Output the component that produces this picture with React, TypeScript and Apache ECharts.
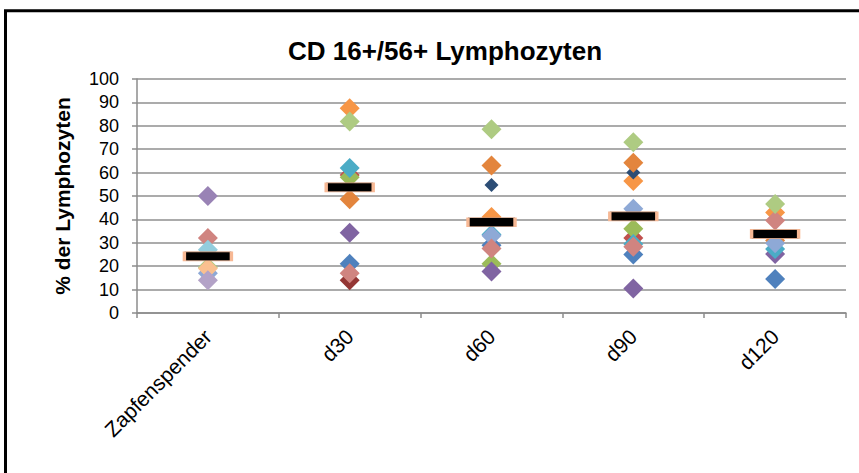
import React, { useEffect, useRef } from "react";
import * as echarts from "echarts";

const categories = ["Zapfenspender", "d30", "d60", "d90", "d120"];
const yTicks = [0, 10, 20, 30, 40, 50, 60, 70, 80, 90, 100];

// individual patients / donors (null = no value)
const sBlue = [null, 21, 29, 25, 14.5];
const sRed = [null, 59, null, 32, null];
const sGreen = [null, 58, 21, 36, null];
const sPurple = [null, 34.3, 17.7, 10.5, 25.2];
const sAqua = [null, 62, 33.5, 29.5, 27.3];
const sOrange = [null, 87.5, 41, 56.4, 43];
const sDarkBlue = [null, null, 54.7, 60, null];
const sDarkRed = [null, 14, null, null, null];
const sDarkOrange = [null, 48.6, 63, 64.2, 31];
const sLightBlue = [17, null, 33, 44.5, 29.8];
const sPink = [32, 17, 27.6, 28.3, 39.5];
const sLightGreen = [19.5, 81.8, 78.5, 73, 46.6];
const sDonorPurple = [50, null, null, null, null];
const sDonorAqua = [27, null, null, null, null];
const sDonorOrange = [19, null, null, null, null];
const sLavender = [14, null, null, null, null];
const meanValues = [24.2, 53.7, 38.8, 41.3, 33.8];

const seriesDefs: [string, string, (number | null)[], number][] = [
  ["P1", "#4F81BD", sBlue, 20],
  ["P2", "#C0504D", sRed, 20],
  ["P3", "#9BBB59", sGreen, 20],
  ["P4", "#8064A2", sPurple, 20],
  ["P5", "#4BACC6", sAqua, 20],
  ["P6", "#F79646", sOrange, 20],
  ["P7", "#2C4D75", sDarkBlue, 14],
  ["P8", "#943634", sDarkRed, 20],
  ["P9", "#E3853D", sDarkOrange, 20],
  ["P10", "#8EA9D6", sLightBlue, 20],
  ["P11", "#D08480", sPink, 20],
  ["P12", "#AECB82", sLightGreen, 20],
  ["D1", "#9983B5", sDonorPurple, 20],
  ["D2", "#93CDDD", sDonorAqua, 20],
  ["D3", "#FAC090", sDonorOrange, 20],
  ["D4", "#B3A2C7", sLavender, 20],
];

const FONT = "Liberation Sans, Arial, sans-serif";

export default function App() {
  const ref = useRef<HTMLDivElement>(null);
  useEffect(() => {
    if (!ref.current) return;
    const chart = echarts.init(ref.current, null, { renderer: "svg" });
    const series: any[] = seriesDefs.map(([name, color, data, size]) => ({
      name,
      type: "scatter",
      data,
      symbol: "diamond",
      symbolSize: [size, size],
      itemStyle: { color, opacity: 1 },
    }));
    series.push({
      name: "Mittelwert",
      type: "scatter",
      data: meanValues,
      symbol: "rect",
      symbolSize: [47, 9],
      itemStyle: { color: "#000000", borderColor: "#F7B894", borderWidth: 1.5, opacity: 1 },
      z: 5,
    });
    chart.setOption({
      animation: false,
      backgroundColor: "#ffffff",
      title: {
        text: "CD 16+/56+ Lymphozyten",
        left: 440,
        textAlign: "center",
        top: 33,
        textStyle: { fontFamily: FONT, fontSize: 26, fontWeight: "bold", color: "#000" },
      },
      graphic: [
        {
          type: "rect",
          shape: { x: 5.5, y: 10.8, width: 900, height: 500 },
          style: { fill: "none", stroke: "#000", lineWidth: 3 },
          silent: true,
        },
      ],
      grid: { left: 137, right: 13, top: 79, bottom: 160 },
      xAxis: {
        type: "category",
        data: categories,
        boundaryGap: true,
        axisLine: { lineStyle: { color: "#8c8c8c", width: 1.5 } },
        axisTick: { show: true, length: 5, alignWithLabel: false, lineStyle: { color: "#8c8c8c", width: 1.5 } },
        axisLabel: {
          rotate: 45,
          margin: 20,
          fontFamily: FONT,
          fontSize: 21,
          color: "#000",
          interval: 0,
        },
        splitLine: { show: false },
      },
      yAxis: {
        type: "value",
        min: yTicks[0],
        max: yTicks[yTicks.length - 1],
        interval: 10,
        name: "% der Lymphozyten",
        nameLocation: "middle",
        nameRotate: 90,
        nameGap: 64,
        nameTextStyle: { fontFamily: FONT, fontSize: 21, fontWeight: "bold", color: "#000" },
        axisLine: { show: true, lineStyle: { color: "#8c8c8c", width: 1.5 } },
        axisTick: { show: true, length: 5, lineStyle: { color: "#8c8c8c", width: 1.5 } },
        axisLabel: { margin: 18, fontFamily: FONT, fontSize: 18, color: "#000" },
        splitLine: { lineStyle: { color: "#8f8f8f", width: 1.5 } },
      },
      series,
    });
    return () => chart.dispose();
  }, []);
  return (
    <div
      ref={ref}
      style={{ position: "fixed", left: 0, top: 0, width: 859, height: 473, background: "#fff" }}
    />
  );
}
